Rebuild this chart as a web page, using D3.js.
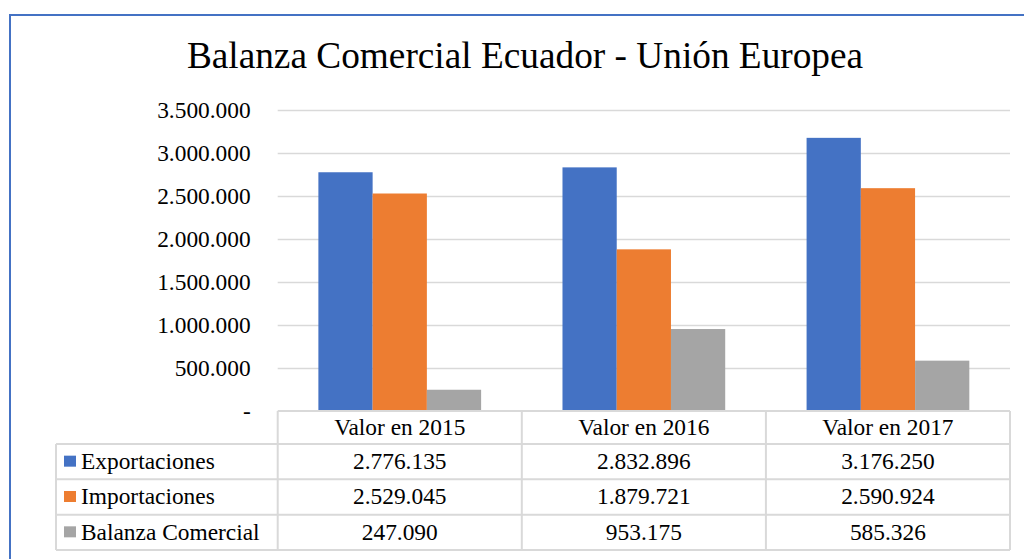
<!DOCTYPE html>
<html>
<head>
<meta charset="utf-8">
<script src="https://cdn.jsdelivr.net/npm/d3@7"></script>
<style>
    body { margin: 0; background: #fff; }
    svg { display: block; font-family: "Liberation Serif", "Times New Roman", serif; }
    .grid line { stroke: #d9d9d9; stroke-width: 1.5; }
    .grid .domain { display: none; }
    .table-lines line { stroke: #d9d9d9; stroke-width: 2; }
</style>
</head>
<body>
<div id="chart"></div>
<script>
(function () {
    "use strict";

    const title = "Balanza Comercial Ecuador - Unión Europea";
    const categories = ["Valor en 2015", "Valor en 2016", "Valor en 2017"];
    const seriesNames = ["Exportaciones", "Importaciones", "Balanza Comercial"];
    const exportaciones = [2776135, 2832896, 3176250];
    const importaciones = [2529045, 1879721, 2590924];
    const balanza = [247090, 953175, 585326];
    const yTicks = [0, 500000, 1000000, 1500000, 2000000, 2500000, 3000000, 3500000];
    const colors = ["#4472c4", "#ed7d31", "#a5a5a5"];

    const series = [exportaciones, importaciones, balanza].map((values, i) => ({
        name: seriesNames[i],
        color: colors[i],
        values: values
    }));

    const locale = d3.formatLocale({
        decimal: ",",
        thousands: ".",
        grouping: [3],
        currency: ["$", ""]
    });
    const fmt = locale.format(",.0f");
    const fmtTick = d => (d === 0 ? "-" : fmt(d));

    const width = 1024;
    const height = 559;
    const plot = { left: 277.7, right: 1010, top: 110, bottom: 411 };
    const fontSize = 23.4;
    const serif = "\"Liberation Serif\", \"Times New Roman\", serif";

    const svg = d3.select("#chart").append("svg")
        .attr("width", width)
        .attr("height", height);

    // outer frame
    svg.append("rect")
        .attr("x", 10)
        .attr("y", 15)
        .attr("width", 1100)
        .attr("height", 700)
        .attr("fill", "none")
        .attr("stroke", "#4472c4")
        .attr("stroke-width", 2);

    svg.append("text")
        .attr("x", 525)
        .attr("y", 68)
        .attr("text-anchor", "middle")
        .style("font-size", "37.3px")
        .text(title);

    const xScale = d3.scaleBand()
        .domain(categories)
        .range([plot.left, plot.right]);

    const xInner = d3.scaleBand()
        .domain(seriesNames)
        .range([0, xScale.bandwidth()])
        .paddingOuter(0.75);

    const yScale = d3.scaleLinear()
        .domain([0, 3500000])
        .range([plot.bottom, plot.top]);

    const yAxis = d3.axisLeft(yScale)
        .tickValues(yTicks)
        .tickSize(-(plot.right - plot.left))
        .tickPadding(27)
        .tickFormat(fmtTick);

    const yGroup = svg.append("g")
        .attr("class", "grid")
        .attr("transform", `translate(${plot.left},0)`)
        .call(yAxis);

    yGroup.selectAll(".tick text")
        .attr("fill", "#000")
        .style("font-size", fontSize + "px")
        .style("font-family", serif);

    yGroup.selectAll(".tick")
        .filter(d => d === 0)
        .select("line")
        .remove();

    // bars
    const bars = svg.append("g").attr("class", "bars");
    for (const s of series) {
        bars.append("g")
            .attr("fill", s.color)
            .selectAll("rect")
            .data(s.values)
            .enter()
            .append("rect")
            .attr("x", (d, i) => xScale(categories[i]) + xInner(s.name))
            .attr("y", d => yScale(d))
            .attr("width", xInner.bandwidth())
            .attr("height", d => yScale(0) - yScale(d));
    }

    // data table
    const headerBottom = 444;
    const rowH = (550 - headerBottom) / series.length;
    const tableLeft = 56;
    const lines = svg.append("g").attr("class", "table-lines");

    lines.append("line")
        .attr("x1", plot.left).attr("x2", plot.right)
        .attr("y1", plot.bottom).attr("y2", plot.bottom);

    for (let r = 0; r <= series.length; r++) {
        const y = headerBottom + r * rowH;
        lines.append("line")
            .attr("x1", tableLeft).attr("x2", plot.right)
            .attr("y1", y).attr("y2", y);
    }

    const colEdges = categories.map(c => xScale(c)).concat([plot.right]);
    for (const x of colEdges) {
        lines.append("line")
            .attr("x1", x).attr("x2", x)
            .attr("y1", plot.bottom).attr("y2", headerBottom + series.length * rowH);
    }
    lines.append("line")
        .attr("x1", tableLeft).attr("x2", tableLeft)
        .attr("y1", headerBottom).attr("y2", headerBottom + series.length * rowH);

    const cells = svg.append("g")
        .style("font-size", fontSize + "px");

    cells.selectAll(".header")
        .data(categories)
        .enter()
        .append("text")
        .attr("class", "header")
        .attr("x", d => xScale(d) + xScale.bandwidth() / 2)
        .attr("y", (plot.bottom + headerBottom) / 2)
        .attr("dy", "0.32em")
        .attr("text-anchor", "middle")
        .text(d => d);

    series.forEach((s, r) => {
        const cy = headerBottom + r * rowH + rowH / 2;
        const row = cells.append("g");

        row.append("rect")
            .attr("x", 64)
            .attr("y", cy - 6)
            .attr("width", 12)
            .attr("height", 11)
            .attr("fill", s.color);

        row.append("text")
            .attr("x", 81)
            .attr("y", cy)
            .attr("dy", "0.32em")
            .text(s.name);

        row.selectAll(".val")
            .data(s.values)
            .enter()
            .append("text")
            .attr("class", "val")
            .attr("x", (d, i) => xScale(categories[i]) + xScale.bandwidth() / 2)
            .attr("y", cy)
            .attr("dy", "0.32em")
            .attr("text-anchor", "middle")
            .text(d => fmt(d));
    });
}());
</script>
</body>
</html>
